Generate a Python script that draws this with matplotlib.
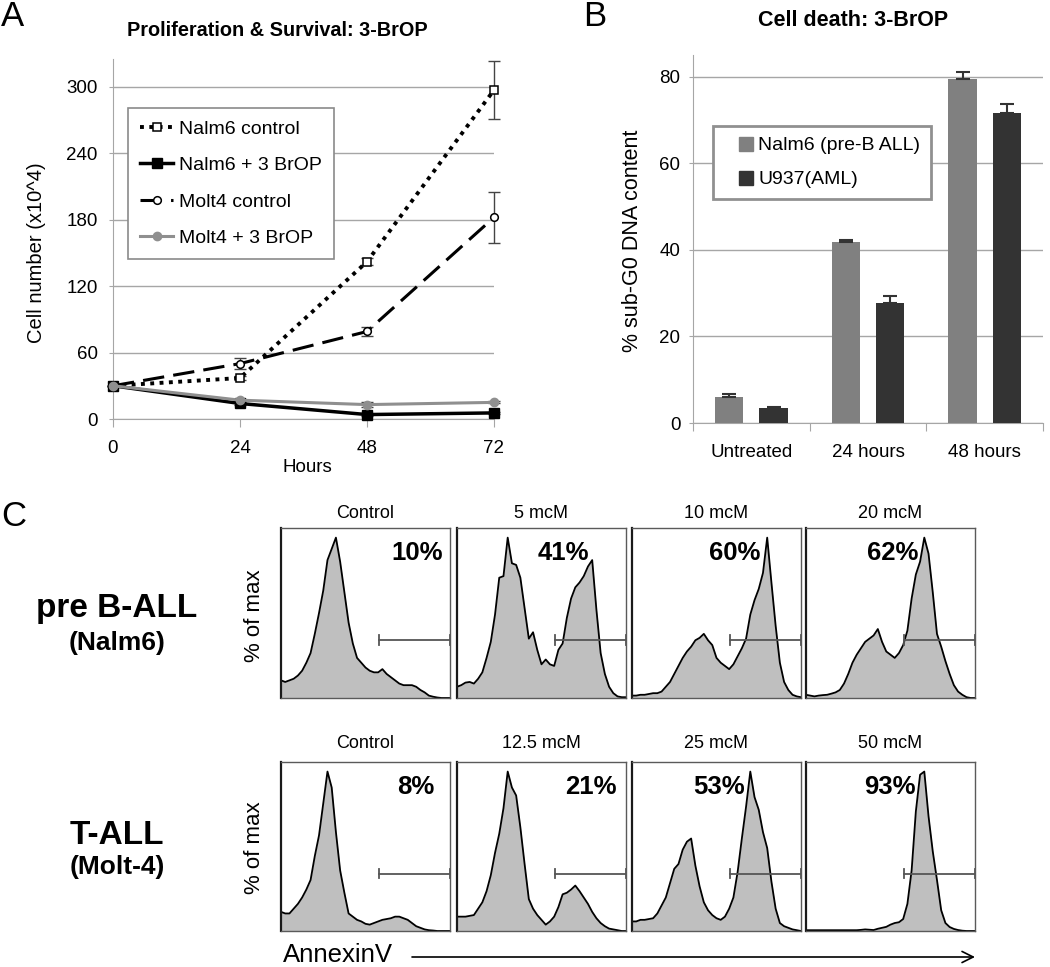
import numpy as np
import matplotlib
matplotlib.use('Agg')
import matplotlib.pyplot as plt
from matplotlib.patches import FancyArrowPatch, ArrowStyle
from matplotlib.lines import Line2D

plt.rcParams['font.family'] = 'Liberation Sans'

W, H = 1050, 967

# Panel A: cell number (x10^4) over time
hours = [0, 24, 48, 72]
nalm6_ctrl = [30, 37, 142, 297]
nalm6_ctrl_err = [0, 2, 3, 26]
nalm6_brop = [30, 14, 4, 5.5]
nalm6_brop_err = [0, 1, 1, 1]
molt4_ctrl = [30, 50, 79, 182]
molt4_ctrl_err = [0, 5, 4, 23]
molt4_brop = [30, 17, 13, 15]
molt4_brop_err = [0, 1, 2, 1]

# Panel B: % sub-G0 DNA content
groups = ['Untreated', '24 hours', '48 hours']
nalm6_death = [6.0, 41.8, 79.5]
nalm6_death_err = [0.6, 0.4, 1.6]
u937_death = [3.5, 27.7, 71.6]
u937_death_err = [0.3, 1.6, 2.1]

# Panel C: AnnexinV histograms (% of max), read on a 2.5% grid of the x range
hist_x = [0, 2.5, 5, 7.5, 10, 12.5, 15, 17.5, 20, 22.5, 25, 27.5, 30, 32.5, 35, 37.5,
          40, 42.5, 45, 47.5, 50, 52.5, 55, 57.5, 60, 62.5, 65, 67.5, 70, 72.5, 75, 77.5,
          80, 82.5, 85, 87.5, 90, 92.5, 95, 97.5, 100]
nalm6_control = [11, 10, 11, 12, 14, 17, 22, 28, 40, 53, 67, 86, 93, 100, 85, 66,
                 47, 34, 25, 22, 19, 17, 16, 16, 18, 15, 13, 11, 9, 8, 8, 8,
                 7, 5, 3.5, 1.5, 0.8, 0.3, 0, 0, 0]
nalm6_5 = [7, 8, 9.6, 10, 9, 12, 16, 25, 35, 52, 75, 76, 100, 84, 83, 75,
           56, 37, 41, 30, 21, 24, 21, 20, 30, 34, 50, 62, 69, 72, 76, 82,
           86, 55, 28, 15, 7, 3, 1, 0.5, 0.5]
nalm6_10 = [1.5, 1.5, 2, 2, 2.5, 3, 3, 4, 7, 10, 15, 20, 25, 29, 32, 36,
            37.5, 40, 36, 33, 25, 22, 20, 18, 21, 26, 31, 37, 52, 61, 68, 78,
            100, 72, 45, 22, 10, 5, 2, 1, 0.5]
nalm6_20 = [2, 1.5, 1, 1.5, 1.8, 2, 2.7, 3.5, 5, 9, 15, 22, 27, 31, 35, 37,
            39, 43, 35, 29, 27, 25, 28, 33, 42, 62, 77, 85, 100, 90, 66, 40,
            32, 23, 15, 8, 4, 2, 0.5, 0, 0]
molt4_control = [12, 11, 11, 14, 17, 21, 26, 32, 47, 60, 80, 100, 90, 62, 38, 24,
                 11, 9, 7, 6, 4.5, 4, 5, 6, 7, 7.5, 8, 9, 9, 8, 7, 5,
                 3, 2, 1, 0.5, 0.3, 0, 0, 0, 0]
molt4_12 = [9, 9, 9, 9.5, 10, 14, 18, 25, 35, 49, 61, 77, 100, 90, 85, 65,
            42, 20, 14, 10, 7, 4, 6, 9, 15, 23, 24, 26, 28.5, 25, 21, 17,
            12, 8, 5, 3, 1.5, 1, 0.5, 0, 0]
molt4_25 = [6, 6, 7, 7, 7.5, 8, 11, 16, 21, 30, 39, 42, 51, 56, 58, 41,
            28, 18, 13, 10, 8, 7, 9, 14, 21, 37, 58, 78, 100, 84, 76, 62,
            52, 31, 14, 5, 3, 2, 1, 0.5, 0]
molt4_50 = [0.5, 0.5, 0.5, 0.5, 0.5, 0.5, 0.5, 0.5, 0.5, 0.5, 0.5, 0.5, 0.5, 0.7, 1, 0.8,
            0.6, 1.4, 2, 2.6, 4, 5, 5.5, 7.5, 17, 38, 75, 98, 100, 72, 50, 32,
            13, 5, 2.5, 1.3, 0.6, 0.2, 0, 0, 0]

row1_titles = ['Control', '5 mcM', '10 mcM', '20 mcM']
row1_pct = ['10%', '41%', '60%', '62%']
row2_titles = ['Control', '12.5 mcM', '25 mcM', '50 mcM']
row2_pct = ['8%', '21%', '53%', '93%']

fig = plt.figure(figsize=(W / 100, H / 100), dpi=100)


def px_axes(x0, y0, x1, y1):
    return fig.add_axes([x0 / W, 1 - y1 / H, (x1 - x0) / W, (y1 - y0) / H])


def ftext(x, y, s, **kw):
    fig.text(x / W, 1 - y / H, s, **kw)


grid_c = '#a6a6a6'

# ---------------- Panel A
axA = px_axes(113, 59, 494, 419)
axA.set_xlim(0, 72)
axA.set_ylim(0, 325)
axA.set_yticks([0, 60, 120, 180, 240, 300])
axA.set_xticks(hours)
axA.yaxis.grid(True, color=grid_c, lw=1)
axA.set_axisbelow(True)
for s in ['top', 'right']:
    axA.spines[s].set_visible(False)
for s in ['left', 'bottom']:
    axA.spines[s].set_color(grid_c)
axA.tick_params(axis='y', length=3, color=grid_c, labelsize=13.5, pad=8)
axA.tick_params(axis='x', length=6, color=grid_c, labelsize=13.5, pad=9)

err_kw = dict(fmt='none', ecolor='#444444', elinewidth=1, capsize=4, capthick=1, clip_on=False)
axA.errorbar(hours, nalm6_ctrl, yerr=nalm6_ctrl_err, **err_kw)
axA.errorbar(hours, molt4_ctrl, yerr=molt4_ctrl_err, **err_kw)
axA.errorbar(hours, nalm6_brop, yerr=nalm6_brop_err, **err_kw)
axA.errorbar(hours, molt4_brop, yerr=molt4_brop_err, **err_kw)

axA.plot(hours, nalm6_ctrl, color='black', ls=(0, (1, 1.4)), lw=2.8, marker='s', ms=6,
         mfc='white', mec='black', mew=1.1, clip_on=False, label='Nalm6 control', zorder=4)
axA.plot(hours, nalm6_brop, color='black', lw=2.5, marker='s', ms=6.5,
         mfc='black', mec='black', clip_on=False, label='Nalm6 + 3 BrOP', zorder=4)
axA.plot(hours, molt4_ctrl, color='black', ls=(0, (7, 3)), lw=2.2, marker='o', ms=5.5,
         mfc='white', mec='black', mew=1.1, clip_on=False, label='Molt4 control', zorder=4)
axA.plot(hours, molt4_brop, color='#8f8f8f', lw=2.2, marker='o', ms=6,
         mfc='#8f8f8f', mec='#8f8f8f', clip_on=False, label='Molt4 + 3 BrOP', zorder=5)

legA = axA.legend(loc='upper left', bbox_to_anchor=((128 - 113) / 381, (419 - 108) / 360),
                  fontsize=14, frameon=True, fancybox=False, framealpha=1,
                  edgecolor='#8a8a8a', handlelength=1.7, handletextpad=0.3,
                  labelspacing=0.97, borderpad=0.62, borderaxespad=0)
legA.get_frame().set_linewidth(1.2)

ftext(277, 31, 'Proliferation & Survival: 3-BrOP', fontsize=14.3, fontweight='bold',
      ha='center', va='center')
ftext(37, 253, 'Cell number (x10^4)', fontsize=14.5, rotation=90, ha='center', va='center')
ftext(307, 467, 'Hours', fontsize=13.5, ha='center', va='center')
ftext(1, 16, 'A', fontsize=25, ha='left', va='center')

# ---------------- Panel B
axB = px_axes(693, 55, 1043, 423)
xb = np.arange(len(groups))
axB.bar(xb + 0.31, nalm6_death, width=0.245, color='#808080', zorder=3)
axB.bar(xb + 0.69, u937_death, width=0.245, color='#333333', zorder=3)
axB.errorbar(xb + 0.31, nalm6_death, yerr=[[0] * 3, nalm6_death_err], fmt='none',
             ecolor='#333333', elinewidth=1.5, capsize=5, capthick=1.5, zorder=4)
axB.errorbar(xb + 0.69, u937_death, yerr=[[0] * 3, u937_death_err], fmt='none',
             ecolor='#333333', elinewidth=1.5, capsize=5, capthick=1.5, zorder=4)
axB.set_xlim(0, 3)
axB.set_ylim(0, 85)
axB.set_yticks([0, 20, 40, 60, 80])
axB.yaxis.grid(True, color=grid_c, lw=1)
axB.set_axisbelow(True)
axB.set_xticks([0, 1, 2, 3])
axB.set_xticklabels([])
axB.set_xticks(xb + 0.5, minor=True)
axB.set_xticklabels(groups, minor=True)
axB.tick_params(axis='x', which='major', length=6, color=grid_c)
axB.tick_params(axis='x', which='minor', length=0, labelsize=13.5, pad=15)
axB.tick_params(axis='y', length=3, color=grid_c, labelsize=13.5, pad=6)
for s in ['top', 'right']:
    axB.spines[s].set_visible(False)
for s in ['left', 'bottom']:
    axB.spines[s].set_color(grid_c)

handlesB = [Line2D([], [], ls='none', marker='s', ms=9.4, mfc='#808080', mec='#808080'),
            Line2D([], [], ls='none', marker='s', ms=9.4, mfc='#333333', mec='#333333')]
legB = axB.legend(handles=handlesB, labels=['Nalm6 (pre-B ALL)', 'U937(AML)'],
                  loc='upper left', bbox_to_anchor=((713 - 693) / 350, (423 - 126) / 368),
                  fontsize=14, frameon=True, fancybox=False, framealpha=1,
                  edgecolor='#909090', handlelength=2.27, handletextpad=-0.5,
                  labelspacing=0.85, borderpad=0.55, borderaxespad=0, numpoints=1)
legB.get_frame().set_linewidth(2)

ftext(853, 21, 'Cell death: 3-BrOP', fontsize=15.5, fontweight='bold', ha='center', va='center')
ftext(633, 241, '% sub-G0 DNA content', fontsize=15.5, rotation=90, ha='center', va='center')
ftext(583, 16, 'B', fontsize=25, ha='left', va='center')

# ---------------- Panel C
box_left = [281, 457, 632, 806]
box_w = 169
row1 = [nalm6_control, nalm6_5, nalm6_10, nalm6_20]
row2 = [molt4_control, molt4_12, molt4_25, molt4_50]
row1_pct_x = [96, 78, 76, 66.5]
row2_pct_x = [91, 94.5, 67, 65]


def hist_panel(x0, y0, y1, heights, pct, pct_x):
    ax = px_axes(x0, y0, x0 + box_w, y1)
    ax.fill_between(hist_x, heights, 0, color='#bfbfbf', lw=0)
    ax.plot(hist_x, heights, color='black', lw=1.3)
    ax.set_xlim(0, 100)
    ax.set_ylim(0, 106)
    ax.set_xticks([])
    ax.set_yticks([])
    for s in ax.spines.values():
        s.set_color('#5a5a5a')
        s.set_linewidth(1)
    ax.spines['left'].set_color('#1a1a1a')
    ax.spines['left'].set_linewidth(1.6)
    ax.plot([58, 100], [36, 36], color='#555555', lw=1.3, clip_on=False)
    ax.plot([58, 58], [33, 39], color='#555555', lw=1.3, clip_on=False)
    ax.plot([100, 100], [33, 39], color='#555555', lw=1.3, clip_on=False)
    ax.text(pct_x / 100, 0.85, pct, transform=ax.transAxes, ha='right', va='center',
            fontsize=18.5, fontweight='bold')


for i in range(4):
    hist_panel(box_left[i], 528, 698, row1[i], row1_pct[i], row1_pct_x[i])
    ftext(box_left[i] + box_w / 2, 513, row1_titles[i], fontsize=13, ha='center', va='center')
    hist_panel(box_left[i], 762, 931, row2[i], row2_pct[i], row2_pct_x[i])
    ftext(box_left[i] + box_w / 2, 743, row2_titles[i], fontsize=13, ha='center', va='center')

ftext(117, 608, 'pre B-ALL', fontsize=24, fontweight='bold', ha='center', va='center')
ftext(117, 643, '(Nalm6)', fontsize=19, fontweight='bold', ha='center', va='center')
ftext(117, 835, 'T-ALL', fontsize=24, fontweight='bold', ha='center', va='center')
ftext(117, 867, '(Molt-4)', fontsize=19, fontweight='bold', ha='center', va='center')
ftext(255, 616, '% of max', fontsize=16, rotation=90, ha='center', va='center')
ftext(255, 848, '% of max', fontsize=16, rotation=90, ha='center', va='center')
ftext(1, 516, 'C', fontsize=25, ha='left', va='center')

ftext(283, 955, 'AnnexinV', fontsize=18.5, ha='left', va='center')
arrow = FancyArrowPatch((412 / W, 1 - 957 / H), (975 / W, 1 - 957 / H),
                        transform=fig.transFigure,
                        arrowstyle=ArrowStyle('->', head_length=0.5, head_width=0.25),
                        mutation_scale=16, lw=1.2, color='black', shrinkA=0, shrinkB=0)
fig.add_artist(arrow)

fig.savefig('out.png', dpi=100)
